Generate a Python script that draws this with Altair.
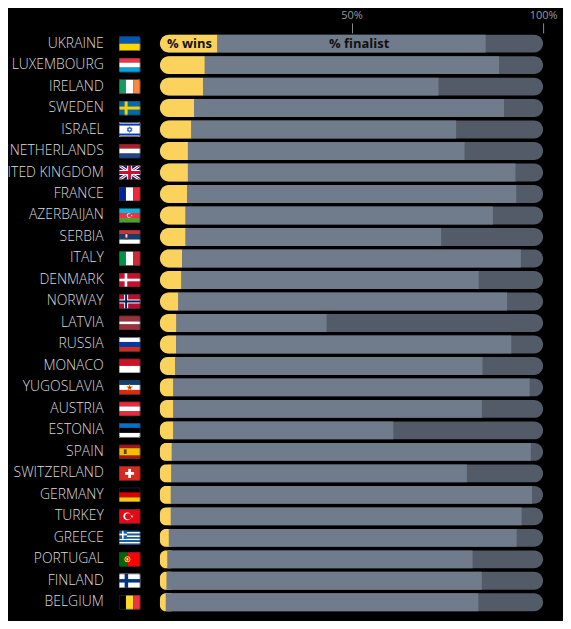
import base64
import math
import altair as alt
import pandas as pd

countries = ["UKRAINE", "LUXEMBOURG", "IRELAND", "SWEDEN", "ISRAEL", "NETHERLANDS",
             "UNITED KINGDOM", "FRANCE", "AZERBAIJAN", "SERBIA", "ITALY", "DENMARK",
             "NORWAY", "LATVIA", "RUSSIA", "MONACO", "YUGOSLAVIA", "AUSTRIA", "ESTONIA",
             "SPAIN", "SWITZERLAND", "GERMANY", "TURKEY", "GREECE", "PORTUGAL",
             "FINLAND", "BELGIUM"]
wins = [15.0, 11.7, 11.3, 8.9, 8.2, 7.3, 7.3, 7.1, 6.7, 6.7, 5.8, 5.6, 4.8, 4.3,
        4.2, 4.0, 3.5, 3.5, 3.5, 3.1, 3.0, 2.8, 2.8, 2.3, 1.9, 1.7, 1.5]
finalist = [85.0, 88.5, 72.7, 89.8, 77.3, 79.5, 92.8, 93.0, 86.9, 73.4, 94.2, 83.2,
            90.6, 43.5, 91.7, 84.2, 96.5, 84.0, 60.9, 96.8, 80.1, 97.1, 94.4, 93.1,
            81.6, 84.0, 83.1]
tick_values = [50, 100]
bar_labels = ["% wins", "% finalist"]


# ---------- flag pictures (small SVG images) ----------
def svg(body):
    s = ('<svg xmlns="http://www.w3.org/2000/svg" width="22" height="15" viewBox="0 0 22 15">'
         '<defs><clipPath id="c"><rect width="22" height="15" rx="1.6"/></clipPath></defs>'
         '<g clip-path="url(#c)">' + body + '</g>'
         '<rect x="0.4" y="0.4" width="21.2" height="14.2" rx="1.6" fill="none" '
         'stroke="#30343a" stroke-width="0.8"/></svg>')
    return "data:image/svg+xml;base64," + base64.b64encode(s.encode()).decode()


def rect(x, y, w, h, fill):
    return f'<rect x="{x}" y="{y}" width="{w}" height="{h}" fill="{fill}"/>'


def hs(cols, weights=None):
    weights = weights or [1] * len(cols)
    tot = sum(weights)
    y, out = 0.0, ""
    for c, w in zip(cols, weights):
        hh = 15 * w / tot
        out += rect(0, f"{y:.3f}", 22, f"{hh + 0.05:.3f}", c)
        y += hh
    return out


def vs(cols):
    out = ""
    for i, c in enumerate(cols):
        out += rect(f"{22 * i / 3:.3f}", 0, f"{22 / 3 + 0.05:.3f}", 15, c)
    return out


def star(cx, cy, R, fill, stroke=None, sw=0.5):
    pts = []
    for i in range(10):
        r = R if i % 2 == 0 else R * 0.4
        a = -math.pi / 2 + i * math.pi / 5
        pts.append(f"{cx + r * math.cos(a):.2f},{cy + r * math.sin(a):.2f}")
    st = f' stroke="{stroke}" stroke-width="{sw}"' if stroke else ""
    return f'<polygon points="{" ".join(pts)}" fill="{fill}"{st}/>'


def circ(cx, cy, r, fill):
    return f'<circle cx="{cx}" cy="{cy}" r="{r}" fill="{fill}"/>'


greece = "".join(rect(0, f"{i * 15 / 9:.3f}", 22, f"{15 / 9 + 0.05:.3f}",
                      "#0d5eaf" if i % 2 == 0 else "#ffffff") for i in range(9))
greece += rect(0, 0, 8.33, 8.33, "#0d5eaf") + rect(3.33, 0, 1.67, 8.33, "#fff") + rect(0, 3.33, 8.33, 1.67, "#fff")

uk = (rect(0, 0, 22, 15, "#012169")
      + '<path d="M0,0 L22,15 M22,0 L0,15" stroke="#fff" stroke-width="3"/>'
      + '<path d="M0,0 L22,15 M22,0 L0,15" stroke="#C8102E" stroke-width="1"/>'
      + '<path d="M11,0 V15 M0,7.5 H22" stroke="#fff" stroke-width="5"/>'
      + '<path d="M11,0 V15 M0,7.5 H22" stroke="#C8102E" stroke-width="3"/>')

israel = (rect(0, 0, 22, 15, "#fff") + rect(0, 1.5, 22, 2, "#0038b8") + rect(0, 11.5, 22, 2, "#0038b8")
          + '<polygon points="11,4.6 13.5,8.9 8.5,8.9" fill="none" stroke="#0038b8" stroke-width="0.7"/>'
          + '<polygon points="11,10.4 13.5,6.1 8.5,6.1" fill="none" stroke="#0038b8" stroke-width="0.7"/>')

flags = {
    "UKRAINE": hs(["#0057b7", "#ffd700"]),
    "LUXEMBOURG": hs(["#ef3340", "#ffffff", "#00a3e0"]),
    "IRELAND": vs(["#169b62", "#ffffff", "#ff883e"]),
    "SWEDEN": rect(0, 0, 22, 15, "#006aa7") + rect(6, 0, 3, 15, "#fecc00") + rect(0, 6, 22, 3, "#fecc00"),
    "ISRAEL": israel,
    "NETHERLANDS": hs(["#ae1c28", "#ffffff", "#21468b"]),
    "UNITED KINGDOM": uk,
    "FRANCE": vs(["#002395", "#ffffff", "#ed2939"]),
    "AZERBAIJAN": hs(["#00b5e2", "#ef3340", "#509e2f"]) + circ(10.3, 7.5, 2.2, "#fff")
                  + circ(10.9, 7.5, 1.8, "#ef3340") + star(13.2, 7.5, 1.1, "#fff"),
    "SERBIA": hs(["#c6363c", "#0c4076", "#ffffff"]) + rect(6.2, 3.6, 3.2, 6.2, "#8a2a2a")
              + rect(6.9, 4.6, 1.8, 3.4, "#e8e0d0"),
    "ITALY": vs(["#009246", "#ffffff", "#ce2b37"]),
    "DENMARK": rect(0, 0, 22, 15, "#c8102e") + rect(6, 0, 2.6, 15, "#fff") + rect(0, 6.2, 22, 2.6, "#fff"),
    "NORWAY": rect(0, 0, 22, 15, "#ba0c2f") + rect(5.5, 0, 4, 15, "#fff") + rect(0, 5.5, 22, 4, "#fff")
              + rect(6.5, 0, 2, 15, "#00205b") + rect(0, 6.5, 22, 2, "#00205b"),
    "LATVIA": hs(["#9e3039", "#ffffff", "#9e3039"], [2, 1, 2]),
    "RUSSIA": hs(["#ffffff", "#0039a6", "#d52b1e"]),
    "MONACO": hs(["#ce1126", "#ffffff"]),
    "YUGOSLAVIA": hs(["#0c4076", "#ffffff", "#de2910"]) + star(11, 7.7, 3.3, "#de2910", "#f7d117", 0.5),
    "AUSTRIA": hs(["#ed2939", "#ffffff", "#ed2939"]),
    "ESTONIA": hs(["#0072ce", "#000000", "#ffffff"]),
    "SPAIN": hs(["#aa151b", "#f1bf00", "#aa151b"], [1, 2, 1]) + rect(5.2, 5, 2.8, 4.6, "#6b3a1e"),
    "SWITZERLAND": rect(0, 0, 22, 15, "#da291c") + rect(9.6, 3, 2.8, 9, "#fff") + rect(6.5, 6.1, 9, 2.8, "#fff"),
    "GERMANY": hs(["#000000", "#dd0000", "#ffce00"]),
    "TURKEY": rect(0, 0, 22, 15, "#e30a17") + circ(8.6, 7.5, 3.8, "#fff") + circ(9.6, 7.5, 3.1, "#e30a17")
              + star(13.3, 7.5, 1.6, "#fff"),
    "GREECE": greece,
    "PORTUGAL": rect(0, 0, 8.8, 15, "#006600") + rect(8.8, 0, 13.2, 15, "#ff0000")
                + circ(8.8, 7.5, 3.0, "#ffcc00") + circ(8.8, 7.5, 2.0, "#ff0000") + rect(7.9, 6.3, 1.8, 2.4, "#fff"),
    "FINLAND": rect(0, 0, 22, 15, "#fff") + rect(6, 0, 3.5, 15, "#003580") + rect(0, 5.75, 22, 3.5, "#003580"),
    "BELGIUM": vs(["#000000", "#fdda24", "#ef3340"]),
}

df = pd.DataFrame({
    "country": countries,
    "wins": wins,
    "finalist": finalist,
    "flag": [svg(flags[c]) for c in countries],
})

FONT = "Open Sans"
x_scale = alt.Scale(domain=[0, 100], nice=False, zero=True)
x_axis = alt.Axis(values=tick_values, labelExpr="datum.value + '%'", orient="top", title=None)
y_enc = alt.Y("country:N", sort=countries, title=None,
              scale=alt.Scale(paddingInner=0.167, paddingOuter=0.083))

base = alt.Chart(df).transform_calculate(
    zero="0", full="100", ywin="max(datum.wins, 3)"
)

bg = base.mark_bar(color="#525b67", cornerRadius=9).encode(
    x=alt.X("zero:Q", scale=x_scale, axis=x_axis), x2="full:Q", y=y_enc)

win_bar = base.mark_bar(color="#fbd35c", cornerRadiusTopLeft=9, cornerRadiusBottomLeft=9).encode(
    x=alt.X("zero:Q", scale=x_scale, axis=x_axis), x2="ywin:Q", y=y_enc)

fin_bar = base.mark_bar(color="#707c8c").encode(
    x=alt.X("wins:Q", scale=x_scale, axis=x_axis), x2="finalist:Q", y=y_enc)

flag_marks = base.mark_image(width=22, height=15, align="center", baseline="middle").encode(
    x=alt.value(-30.5), y=y_enc, url="flag:N")

ukr = base.transform_filter(alt.datum.country == countries[0])
lbl_win = ukr.mark_text(align="left", baseline="middle", dx=7, font=FONT, fontSize=13,
                        fontWeight="bold", color="#111111").encode(
    x=alt.datum(0), y=y_enc, text=alt.value(bar_labels[0]))
lbl_fin = ukr.mark_text(align="center", baseline="middle", font=FONT, fontSize=13,
                        fontWeight="bold", color="#111111").encode(
    x=alt.datum(52), y=y_enc, text=alt.value(bar_labels[1]))

chart = alt.layer(bg, win_bar, fin_bar, flag_marks, lbl_win, lbl_fin).properties(
    width=385, height=583,
    autosize=alt.AutoSizeParams(type="none"),
    padding={"left": 152.7, "top": 23.5, "right": 20, "bottom": 6},
    background="#000000",
).configure_view(stroke=None).configure_axisX(
    domain=False, grid=False, tickSize=10, tickColor="#8a8a8a", tickWidth=1,
    labelColor="#9a9a9a", labelFont=FONT, labelFontSize=11, labelPadding=2,
    labelFlush=False, labelOverlap=False,
).configure_axisY(
    domain=False, ticks=False, grid=False, labelPadding=57, labelFont=FONT,
    labelFontSize=14, labelFontWeight=300, labelColor="#dcdcdc",
)

chart.save("out.html", embed_options={"renderer": "svg", "actions": False})
